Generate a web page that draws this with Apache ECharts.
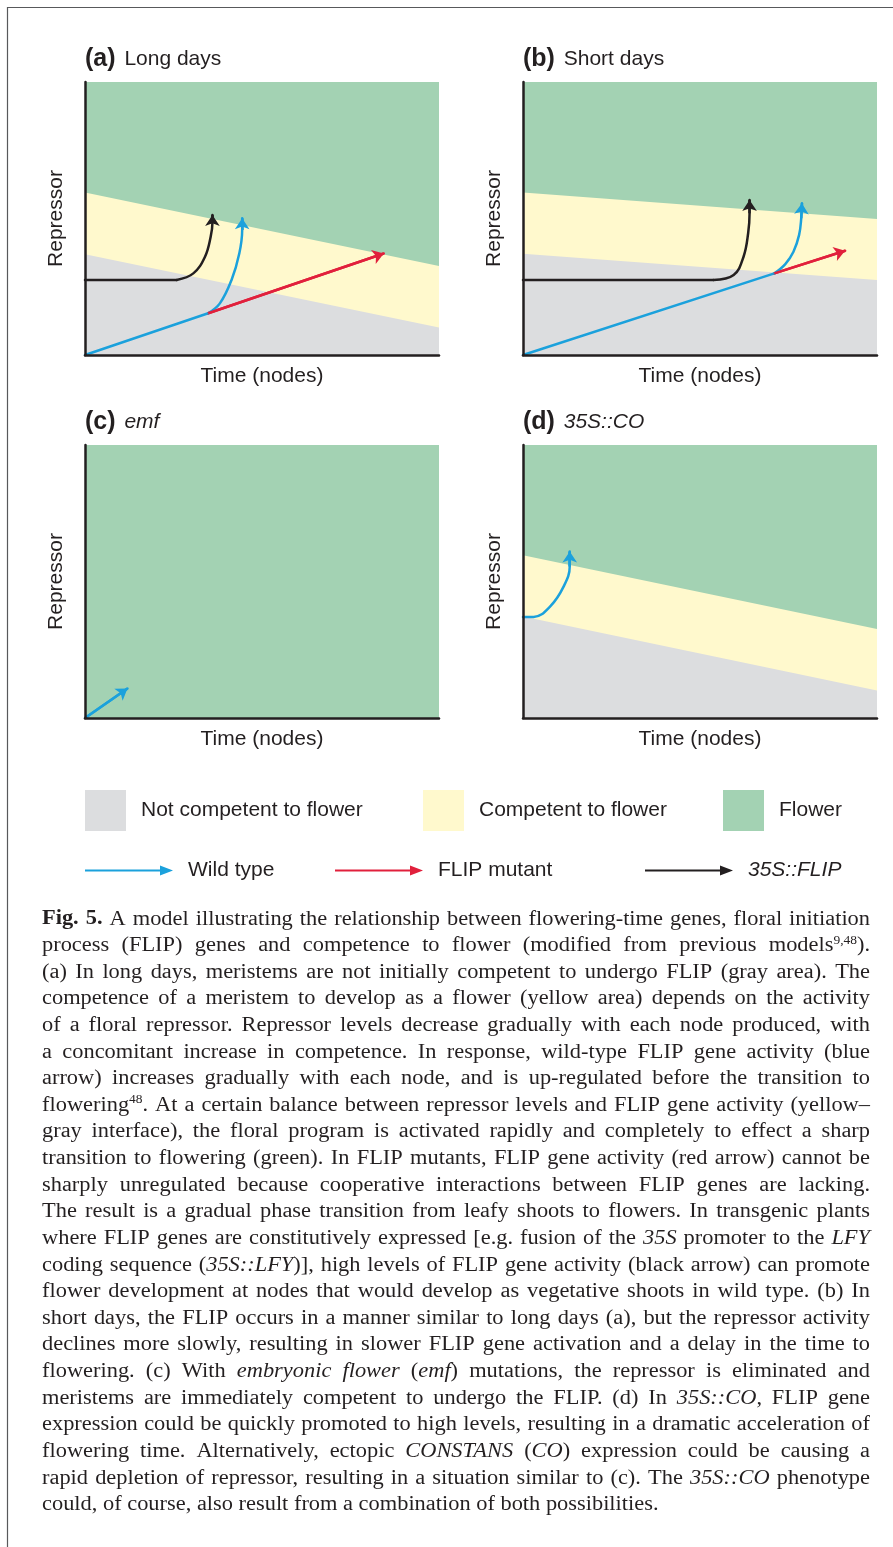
<!DOCTYPE html>
<html><head><meta charset="utf-8">
<script src="https://cdn.jsdelivr.net/npm/echarts@6/dist/echarts.min.js"></script>
<style>html,body{margin:0;padding:0;background:#fff}#chart{width:893px;height:1547px}</style>
</head><body><div id="chart"></div>
<script>
// ---------- data (arbitrary 0-100 units) ----------
const xEnds = [0, 100];
const flowerTop = [100, 100];
const aUpper = [59.5, 32.6], aLower = [36.9, 10.1];
const bUpper = [59.5, 49.8], bLower = [37.1, 27.5];
const dUpper = [59.6, 32.6], dLower = [37.2, 10.1];

const aBlueLine  = [[0, 0], [34.8, 15.3]];
const aBlueCurve = [[34.8, 15.3], [38.1, 18.9], [41.4, 27.5], [43.6, 37.3], [44.4, 45.8], [44.4, 50.1]];
const aBlackLine = [[0, 27.5], [25.9, 27.5]];
const aBlackCurve = [[25.9, 27.5], [30.6, 29.9], [33.9, 36.0], [35.5, 43.3], [36.0, 48.5], [36.0, 51.3]];
const aRed = [[34.8, 15.3], [84.4, 37.2]];

const bBlueLine  = [[0, 0], [71.0, 29.9]];
const bBlueCurve = [[71.0, 29.9], [74.1, 33.3], [76.4, 37.8], [78.0, 44.0], [78.6, 50.1], [78.8, 55.6]];
const bBlackLine = [[0, 27.5], [53.8, 27.5]];
const bBlackCurve = [[53.8, 27.5], [59.5, 29.3], [62.3, 36.0], [63.6, 44.6], [64.0, 51.9], [64.0, 56.8]];
const bRed = [[71.0, 29.9], [91.0, 38.2]];

const cBlue = [[0, 0], [12.0, 10.8]];

const dBlueCurve = [[0, 37.0], [3.0, 37.0], [7.7, 40.9], [11.5, 48.2], [13.2, 55.5], [13.2, 61.0]];

const panelTitles = ['{b|(a)} {r|Long days}', '{b|(b)} {r|Short days}', '{b|(c)} {i|emf}', '{b|(d)} {i|35S::CO}'];
const xName = 'Time (nodes)', yName = 'Repressor';
const NAMES = {gray: 'Not competent to flower', yellow: 'Competent to flower', green: 'Flower',
               blue: 'Wild type', red: 'FLIP mutant', black: '35S::FLIP'};

const captionLines = [
"**Fig. 5.** A model illustrating the relationship between flowering-time genes, floral initiation",
"process (FLIP) genes and competence to flower (modified from previous models^9,48^).",
"(a) In long days, meristems are not initially competent to undergo FLIP (gray area). The",
"competence of a meristem to develop as a flower (yellow area) depends on the activity",
"of a floral repressor. Repressor levels decrease gradually with each node produced, with",
"a concomitant increase in competence. In response, wild-type FLIP gene activity (blue",
"arrow) increases gradually with each node, and is up-regulated before the transition to",
"flowering^48^. At a certain balance between repressor levels and FLIP gene activity (yellow\u2013",
"gray interface), the floral program is activated rapidly and completely to effect a sharp",
"transition to flowering (green). In FLIP mutants, FLIP gene activity (red arrow) cannot be",
"sharply unregulated because cooperative interactions between FLIP genes are lacking.",
"The result is a gradual phase transition from leafy shoots to flowers. In transgenic plants",
"where FLIP genes are constitutively expressed [e.g. fusion of the *35S* promoter to the *LFY*",
"coding sequence (*35S::LFY*)], high levels of FLIP gene activity (black arrow) can promote",
"flower development at nodes that would develop as vegetative shoots in wild type. (b) In",
"short days, the FLIP occurs in a manner similar to long days (a), but the repressor activity",
"declines more slowly, resulting in slower FLIP gene activation and a delay in the time to",
"flowering. (c) With *embryonic flower* (*emf*) mutations, the repressor is eliminated and",
"meristems are immediately competent to undergo the FLIP. (d) In *35S::CO*, FLIP gene",
"expression could be quickly promoted to high levels, resulting in a dramatic acceleration of",
"flowering time. Alternatively, ectopic *CONSTANS* (*CO*) expression could be causing a",
"rapid depletion of repressor, resulting in a situation similar to (c). The *35S::CO* phenotype",
"could, of course, also result from a combination of both possibilities."
];

// ---------- styles ----------
const C = {gray: '#dcdddf', yellow: '#fff9cd', green: '#a3d2b3', blue: '#1ba1dc', red: '#e1203c', black: '#231f20'};
const TXT = '#231f20';
const SANS = '"Liberation Sans", Arial, sans-serif';
const SERIF = '"Liberation Serif", "Times New Roman", serif';
const LW = 2.5;

const gridPos = [{left: 85, top: 82}, {left: 523, top: 82}, {left: 85, top: 445}, {left: 523, top: 445}];

const chart = echarts.init(document.getElementById('chart'), null, {renderer: 'canvas'});

const grids = gridPos.map(p => ({left: p.left, top: p.top, width: 354, height: 273, containLabel: false}));
const xAxes = gridPos.map((p, i) => ({
  type: 'value', gridIndex: i, min: 0, max: 100, z: 5,
  name: xName, nameLocation: 'middle', nameGap: 11,
  nameTextStyle: {fontSize: 21, color: TXT, fontFamily: SANS, verticalAlign: 'top'},
  axisLine: {show: true, lineStyle: {color: TXT, width: LW}},
  axisTick: {show: false}, axisLabel: {show: false}, splitLine: {show: false}
}));
const yAxes = gridPos.map((p, i) => ({
  type: 'value', gridIndex: i, min: 0, max: 100, z: 5,
  name: yName, nameLocation: 'middle', nameGap: 18,
  nameTextStyle: {fontSize: 21, color: TXT, fontFamily: SANS},
  axisLine: {show: true, lineStyle: {color: TXT, width: LW}},
  axisTick: {show: false}, axisLabel: {show: false}, splitLine: {show: false}
}));

function area(key, ys, g) {
  return {type: 'line', name: NAMES[key], xAxisIndex: g, yAxisIndex: g, silent: true, z: 1,
    data: xEnds.map((x, i) => [x, ys[i]]), symbol: 'none', showSymbol: false,
    lineStyle: {width: 0, color: C[key]}, itemStyle: {color: C[key]},
    areaStyle: {color: C[key], opacity: 1}};
}
function body(key, pts, g, smooth) {
  return {type: 'line', name: NAMES[key], xAxisIndex: g, yAxisIndex: g, silent: true, z: 3,
    data: pts, symbol: 'none', showSymbol: false, smooth: smooth ? 0.4 : false,
    lineStyle: {width: LW, color: C[key], cap: 'round'}, itemStyle: {color: C[key]}};
}
function tip(key, pts, g) {
  const n = pts.length;
  return {type: 'lines', name: NAMES[key], coordinateSystem: 'cartesian2d', xAxisIndex: g, yAxisIndex: g,
    silent: true, z: 4, symbol: ['none', 'arrow'], symbolSize: 11,
    lineStyle: {width: LW, color: C[key], opacity: 1, curveness: 0}, itemStyle: {color: C[key]},
    data: [{coords: [pts[n - 2], pts[n - 1]]}]};
}

const series = [
  // (a)
  area('green', flowerTop, 0), area('yellow', aUpper, 0), area('gray', aLower, 0),
  body('black', aBlackLine, 0, false), body('black', aBlackCurve, 0, true), tip('black', aBlackCurve, 0),
  body('blue', aBlueLine, 0, false), body('red', aRed, 0, false), tip('red', aRed, 0),
  body('blue', aBlueCurve, 0, true), tip('blue', aBlueCurve, 0),
  // (b)
  area('green', flowerTop, 1), area('yellow', bUpper, 1), area('gray', bLower, 1),
  body('black', bBlackLine, 1, false), body('black', bBlackCurve, 1, true), tip('black', bBlackCurve, 1),
  body('blue', bBlueLine, 1, false), body('red', bRed, 1, false), tip('red', bRed, 1),
  body('blue', bBlueCurve, 1, true), tip('blue', bBlueCurve, 1),
  // (c)
  area('green', flowerTop, 2), body('blue', cBlue, 2, false), tip('blue', cBlue, 2),
  // (d)
  area('green', flowerTop, 3), area('yellow', dUpper, 3), area('gray', dLower, 3),
  body('blue', dBlueCurve, 3, true), tip('blue', dBlueCurve, 3)
];

const titleRich = {
  b: {fontWeight: 'bold', fontSize: 25, color: TXT, fontFamily: SANS, padding: [0, 3, 0, 0]},
  r: {fontWeight: 'normal', fontSize: 21, color: TXT, fontFamily: SANS},
  i: {fontStyle: 'italic', fontWeight: 'normal', fontSize: 21, color: TXT, fontFamily: SANS}
};
const titles = gridPos.map((p, i) => ({
  text: panelTitles[i], left: p.left, top: p.top - 35, padding: 0,
  textStyle: {fontSize: 21, fontWeight: 'normal', color: TXT, fontFamily: SANS, rich: titleRich}
}));

// legend layout
const SQUARE = 'rect';
const ARROW = 'path://M0,4L75,4L75,0L88,5L75,10L75,6L0,6Z';
const legendLayout = [
  {key: 'gray', left: 85, top: 790, icon: SQUARE, w: 41, h: 41},
  {key: 'yellow', left: 423, top: 790, icon: SQUARE, w: 41, h: 41},
  {key: 'green', left: 723, top: 790, icon: SQUARE, w: 41, h: 41},
  {key: 'blue', left: 85, top: 860, icon: ARROW, w: 88, h: 10},
  {key: 'red', left: 335, top: 860, icon: ARROW, w: 88, h: 10},
  {key: 'black', left: 645, top: 860, icon: ARROW, w: 88, h: 10, italic: true}
];
const legends = legendLayout.map(l => ({
  data: [NAMES[l.key]], left: l.left, top: l.top, padding: 0, orient: 'horizontal',
  icon: l.icon, itemWidth: l.w, itemHeight: l.h, selectedMode: false,
  itemStyle: {color: C[l.key], borderWidth: 0},
  textStyle: {fontSize: 21, color: TXT, fontFamily: SANS, fontStyle: l.italic ? 'italic' : 'normal', padding: [0, 0, 0, 10]}
}));

// ---------- caption (justified, word by word) ----------
const graphics = [];
graphics.push({type: 'polyline', silent: true, shape: {points: [[7.5, 1547], [7.5, 7.5], [893, 7.5]]},
  style: {stroke: '#58595b', lineWidth: 1.2, fill: null}});

const ctx = document.createElement('canvas').getContext('2d');
const CAP_FS = 20, SUP_FS = 12, CAP_SX = 1.12;
function fontOf(r) {
  return (r.i ? 'italic ' : '') + (r.b ? 'bold ' : '') + (r.s ? SUP_FS : CAP_FS) + 'px ' + SERIF;
}
function measure(font, t) { ctx.font = font; return ctx.measureText(t).width; }
function parseLine(s) {
  const words = []; let word = []; const st = {b: false, i: false, s: false};
  for (let k = 0; k < s.length; k++) {
    const c = s[k];
    if (c === '*' && s[k + 1] === '*') { st.b = !st.b; k++; continue; }
    if (c === '*') { st.i = !st.i; continue; }
    if (c === '^') { st.s = !st.s; continue; }
    if (c === ' ') { if (word.length) { words.push(word); word = []; } continue; }
    const last = word[word.length - 1];
    if (last && last.b === st.b && last.i === st.i && last.s === st.s) last.t += c;
    else word.push({t: c, b: st.b, i: st.i, s: st.s});
  }
  if (word.length) words.push(word);
  return words;
}
const CAP_L = 42, CAP_R = 870, CAP_Y0 = 926, CAP_DY = 26.62;
const spaceW = measure(fontOf({}), ' ') * CAP_SX;
captionLines.forEach((line, li) => {
  const words = parseLine(line);
  words.forEach(wd => { wd.forEach(r => { r.font = fontOf(r); r.w = measure(r.font, r.t); }); wd.w = wd.reduce((a, r) => a + r.w, 0); });
  const total = words.reduce((a, wd) => a + wd.w, 0);
  const n = words.length, avail = CAP_R - CAP_L;
  let gap = spaceW, sc = CAP_SX;
  if (li < captionLines.length - 1 && n > 1) {
    gap = (avail - total * sc) / (n - 1);
    if (gap < spaceW * 0.5) { gap = spaceW * 0.5; sc = (avail - gap * (n - 1)) / total; }
  }
  const B = CAP_Y0 + li * CAP_DY;
  let x = CAP_L;
  words.forEach(wd => {
    wd.forEach(r => {
      graphics.push({type: 'text', x: x, y: r.s ? B - 12 : B - 6.75, scaleX: sc, silent: true,
        style: {text: r.t, font: r.font, fill: TXT, textAlign: 'left', verticalAlign: 'middle'}});
      x += r.w * sc;
    });
    x += gap;
  });
});

chart.setOption({
  backgroundColor: '#ffffff',
  animation: false,
  title: titles,
  legend: legends,
  grid: grids,
  xAxis: xAxes,
  yAxis: yAxes,
  series: series,
  graphic: {elements: graphics}
});
</script></body></html>
